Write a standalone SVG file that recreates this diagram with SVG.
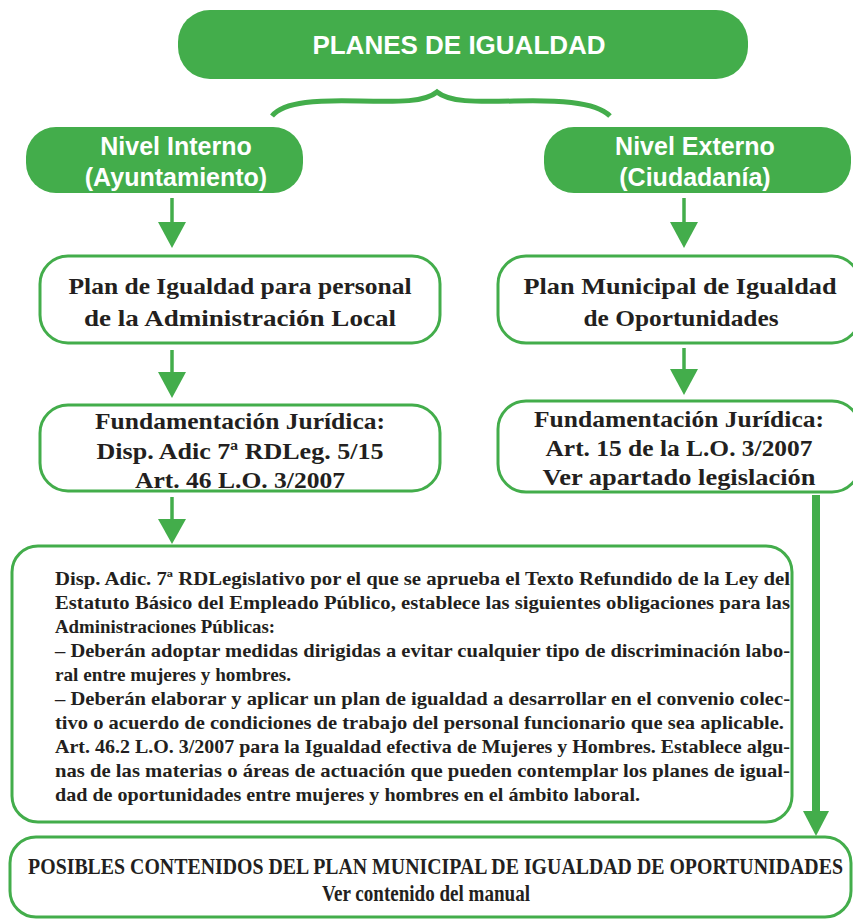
<svg xmlns="http://www.w3.org/2000/svg" width="853" height="919" viewBox="0 0 853 919">
<style>
.fill{fill:#43ad4b}
.box{fill:#fff;stroke:#43ad4b;stroke-width:3}
.hd{font-family:"Liberation Sans",Arial,sans-serif;font-weight:bold;fill:#fff;text-anchor:middle}
.sr{font-family:"Liberation Serif","Times New Roman",serif;font-weight:bold;fill:#231f20;text-anchor:middle;font-size:23px}
.bd{font-family:"Liberation Serif","Times New Roman",serif;font-weight:bold;fill:#231f20;font-size:19.5px}
.ln{stroke:#43ad4b;stroke-width:3.5;fill:none}
</style>
<rect width="853" height="919" fill="#fff"/>
<g id="planes">
<rect class="fill" x="178" y="10" width="570" height="69" rx="32"/>
<text class="hd" x="459" y="54" font-size="26">PLANES DE IGUALDAD</text>
</g>
<g id="interno">
<rect class="fill" x="26" y="127" width="277" height="66" rx="30"/>
<text class="hd" x="176" y="155" font-size="25">Nivel Interno</text>
<text class="hd" x="176" y="186" font-size="25">(Ayuntamiento)</text>
</g>
<g id="externo">
<rect class="fill" x="544" y="127" width="307" height="66" rx="30"/>
<text class="hd" x="695" y="155" font-size="25">Nivel Externo</text>
<text class="hd" x="695" y="186" font-size="25">(Ciudadanía)</text>
</g>
<g id="plan-personal">
<rect class="box" x="40" y="256" width="400" height="87" rx="28"/>
<text class="sr" x="240" y="294" textLength="343" lengthAdjust="spacingAndGlyphs">Plan de Igualdad para personal</text>
<text class="sr" x="240" y="326" textLength="312" lengthAdjust="spacingAndGlyphs">de la Administración Local</text>
</g>
<g id="plan-municipal">
<rect class="box" x="498" y="256" width="362" height="87" rx="28"/>
<text class="sr" x="680" y="294" textLength="313" lengthAdjust="spacingAndGlyphs">Plan Municipal de Igualdad</text>
<text class="sr" x="681" y="326" textLength="195" lengthAdjust="spacingAndGlyphs">de Oportunidades</text>
</g>
<g id="fund-interno">
<rect class="box" x="40" y="405" width="400" height="86" rx="28"/>
<text class="sr" x="240" y="429" textLength="290" lengthAdjust="spacingAndGlyphs">Fundamentación Jurídica:</text>
<text class="sr" x="240" y="459" textLength="287" lengthAdjust="spacingAndGlyphs">Disp. Adic 7ª RDLeg. 5/15</text>
<text class="sr" x="240" y="488" textLength="210" lengthAdjust="spacingAndGlyphs">Art. 46 L.O. 3/2007</text>
</g>
<g id="fund-externo">
<rect class="box" x="498" y="401" width="362" height="91" rx="28"/>
<text class="sr" x="679" y="427" textLength="290" lengthAdjust="spacingAndGlyphs">Fundamentación Jurídica:</text>
<text class="sr" x="679" y="456" textLength="267" lengthAdjust="spacingAndGlyphs">Art. 15 de la L.O. 3/2007</text>
<text class="sr" x="679" y="485" textLength="273" lengthAdjust="spacingAndGlyphs">Ver apartado legislación</text>
</g>
<g id="texto">
<rect class="box" x="12" y="546" width="780" height="276" rx="26"/>
<text class="bd" x="55" y="585" textLength="735" lengthAdjust="spacingAndGlyphs">Disp. Adic. 7ª RDLegislativo por el que se aprueba el Texto Refundido de la Ley del</text>
<text class="bd" x="55" y="609" textLength="735" lengthAdjust="spacingAndGlyphs">Estatuto Básico del Empleado Público, establece las siguientes obligaciones para las</text>
<text class="bd" x="55" y="633" textLength="220" lengthAdjust="spacingAndGlyphs">Administraciones Públicas:</text>
<text class="bd" x="55" y="657" textLength="735" lengthAdjust="spacingAndGlyphs">– Deberán adoptar medidas dirigidas a evitar cualquier tipo de discriminación labo-</text>
<text class="bd" x="55" y="681" textLength="236" lengthAdjust="spacingAndGlyphs">ral entre mujeres y hombres.</text>
<text class="bd" x="55" y="705" textLength="735" lengthAdjust="spacingAndGlyphs">– Deberán elaborar y aplicar un plan de igualdad a desarrollar en el convenio colec-</text>
<text class="bd" x="55" y="729" textLength="729" lengthAdjust="spacingAndGlyphs">tivo o acuerdo de condiciones de trabajo del personal funcionario que sea aplicable.</text>
<text class="bd" x="55" y="753" textLength="735" lengthAdjust="spacingAndGlyphs">Art. 46.2 L.O. 3/2007 para la Igualdad efectiva de Mujeres y Hombres. Establece algu-</text>
<text class="bd" x="55" y="777" textLength="735" lengthAdjust="spacingAndGlyphs">nas de las materias o áreas de actuación que pueden contemplar los planes de igual-</text>
<text class="bd" x="55" y="801" textLength="585" lengthAdjust="spacingAndGlyphs">dad de oportunidades entre mujeres y hombres en el ámbito laboral.</text>
</g>
<g id="posibles">
<rect class="box" x="10" y="837" width="841" height="80" rx="26"/>
<text class="sr" transform="translate(435.5,874) scale(0.88,1)" x="0" y="0" font-size="18" textLength="926" lengthAdjust="spacingAndGlyphs">POSIBLES CONTENIDOS DEL PLAN MUNICIPAL DE IGUALDAD DE OPORTUNIDADES</text>
<text class="sr" x="426" y="901" font-size="18" textLength="208" lengthAdjust="spacingAndGlyphs">Ver contenido del manual</text>
</g>
<g id="connectors">
<path d="M272 116 C284 101 320 100 360 101 C400 102 425 102 437 92 C449 102 474 102 514 101 C554 100 595 101 610 116" fill="none" stroke="#43ad4b" stroke-width="5"/>
<line class="ln" x1="172" y1="198" x2="172" y2="224"/>
<polygon class="fill" points="158,222 186,222 172,248"/>
<line class="ln" x1="684" y1="198" x2="684" y2="224"/>
<polygon class="fill" points="670,222 698,222 684,248"/>
<line class="ln" x1="172" y1="350" x2="172" y2="374"/>
<polygon class="fill" points="158,372 186,372 172,398"/>
<line class="ln" x1="684" y1="348" x2="684" y2="371"/>
<polygon class="fill" points="670,369 698,369 684,395"/>
<line class="ln" x1="172" y1="497" x2="172" y2="521"/>
<polygon class="fill" points="158,519 186,519 172,544"/>
<line x1="816" y1="495" x2="816" y2="813" stroke="#43ad4b" stroke-width="8"/>
<polygon class="fill" points="803,811 829,811 816,836"/>
</g>
</svg>
